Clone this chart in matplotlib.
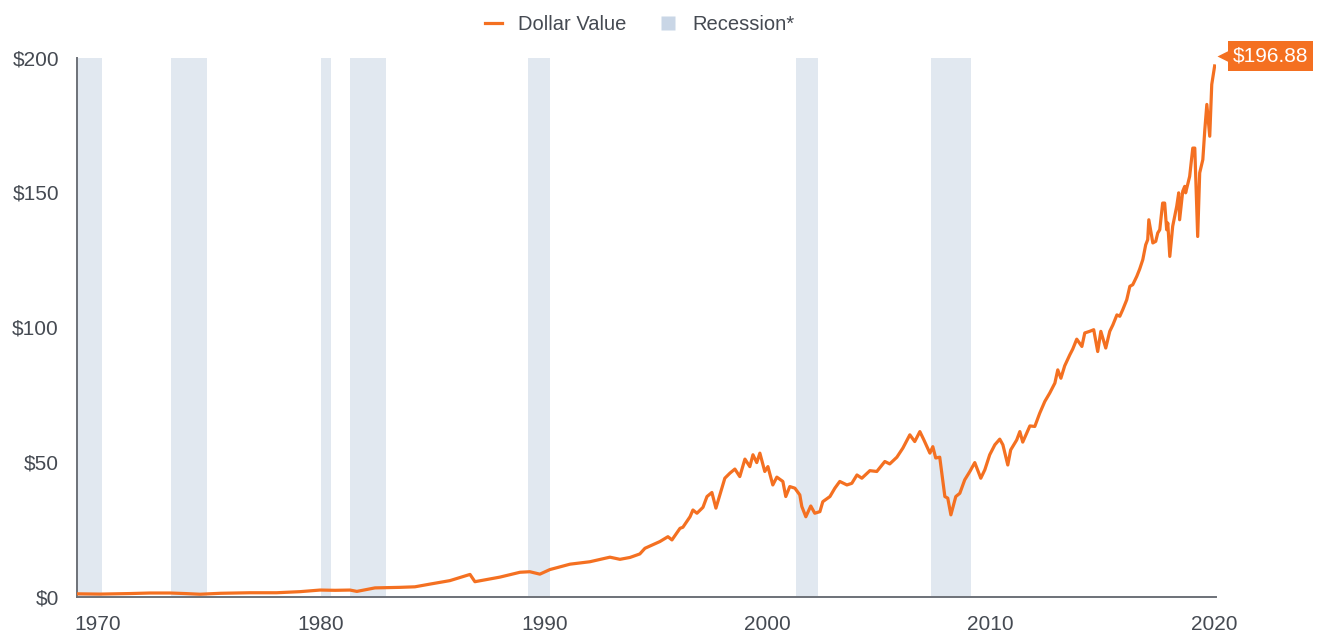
"""Growth of a dollar since 1969, with recession bands."""

import matplotlib
matplotlib.use("Agg")
import matplotlib.pyplot as plt
from matplotlib.lines import Line2D

# Line data (year, dollar value)
years = [
    1969.06, 1970.09, 1971.43, 1972.33, 1973.23, 1973.90, 1974.57, 1975.50,
    1976.81, 1978.00, 1979.05, 1979.95, 1980.62, 1981.29, 1981.60, 1982.41,
    1983.53, 1984.20, 1984.87, 1985.77, 1986.67, 1986.89, 1988.01, 1988.91,
    1989.35, 1989.80, 1990.25, 1991.15, 1992.04, 1992.94, 1993.39, 1993.84,
    1994.28, 1994.51, 1995.18, 1995.54, 1995.72, 1996.08, 1996.21, 1996.53,
    1996.66, 1996.84, 1997.11, 1997.29, 1997.51, 1997.69, 1998.09, 1998.32,
    1998.54, 1998.76, 1998.99, 1999.21, 1999.35, 1999.52, 1999.66, 1999.88,
    2000.02, 2000.24, 2000.42, 2000.69, 2000.82, 2001.00, 2001.23, 2001.45,
    2001.54, 2001.72, 2001.94, 2002.12, 2002.35, 2002.48, 2002.80, 2003.02,
    2003.24, 2003.56, 2003.78, 2004.01, 2004.23, 2004.59, 2004.90, 2005.26,
    2005.48, 2005.80, 2006.07, 2006.38, 2006.60, 2006.83, 2007.01, 2007.28,
    2007.41, 2007.54, 2007.72, 2007.95, 2008.08, 2008.22, 2008.44, 2008.62,
    2008.84, 2009.07, 2009.29, 2009.56, 2009.74, 2009.96, 2010.19, 2010.41,
    2010.55, 2010.77, 2010.90, 2011.17, 2011.31, 2011.44, 2011.76, 2011.98,
    2012.20, 2012.43, 2012.65, 2012.88, 2013.01, 2013.15, 2013.32, 2013.55,
    2013.68, 2013.86, 2014.09, 2014.22, 2014.44, 2014.62, 2014.80, 2014.94,
    2015.16, 2015.34, 2015.48, 2015.66, 2015.79, 2015.92, 2016.10, 2016.24,
    2016.37, 2016.55, 2016.68, 2016.82, 2016.95, 2017.04, 2017.09, 2017.27,
    2017.40, 2017.49, 2017.58, 2017.71, 2017.80, 2017.89, 2017.94, 2018.03,
    2018.16, 2018.34, 2018.43, 2018.47, 2018.61, 2018.70, 2018.74, 2018.92,
    2019.06, 2019.15, 2019.28, 2019.37, 2019.51, 2019.60, 2019.69, 2019.82,
    2019.91, 2020.04,
]
values = [
    1.0, 0.9, 1.1, 1.3, 1.3, 1.1, 0.85, 1.2,
    1.4, 1.4, 1.8, 2.4, 2.3, 2.4, 1.9, 3.2,
    3.4, 3.6, 4.6, 5.9, 8.2, 5.5, 7.2, 9.0,
    9.2, 8.3, 10.0, 12.0, 12.9, 14.6, 13.8, 14.5,
    15.8, 17.9, 20.4, 22.2, 21.0, 25.3, 25.7, 29.6,
    32.1, 30.9, 33.1, 37.1, 38.6, 32.8, 43.9, 45.8,
    47.3, 44.5, 51.0, 48.2, 52.6, 49.7, 53.2, 46.4,
    48.2, 41.4, 44.3, 42.7, 37.1, 40.8, 40.2, 37.7,
    33.4, 29.6, 33.6, 30.9, 31.5, 35.2, 37.1, 40.2,
    42.7, 41.4, 42.0, 45.1, 43.9, 46.7, 46.4, 50.1,
    49.2, 51.7, 55.1, 60.0, 57.5, 61.2, 58.1, 53.2,
    55.6, 51.4, 51.7, 37.1, 36.5, 30.3, 37.1, 38.3,
    43.3, 46.4, 49.7, 43.9, 47.0, 52.6, 56.3, 58.4,
    56.3, 48.8, 54.4, 58.1, 61.2, 57.3, 63.3, 63.1,
    68.0, 72.4, 75.5, 79.2, 84.1, 81.0, 85.6, 89.7,
    91.8, 95.5, 92.8, 97.8, 98.4, 99.0, 90.9, 98.4,
    92.2, 98.4, 100.8, 104.5, 104.0, 106.4, 110.1, 115.1,
    115.7, 118.8, 121.5, 125.0, 130.5, 132.4, 139.8, 131.2,
    131.8, 134.9, 136.1, 146.0, 146.0, 136.1, 138.6, 126.2,
    137.4, 144.8, 149.8, 139.8, 150.4, 152.2, 149.8, 155.9,
    166.4, 166.4, 133.6, 157.2, 162.1, 173.3, 182.6, 170.8,
    190.0, 196.88,
]

# Recession bands (start, end) in chart years
recession_start = [1969.06, 1973.27, 1980.00, 1981.30, 1989.28, 2001.30, 2007.35]
recession_end = [1970.18, 1974.87, 1980.45, 1982.90, 1990.27, 2002.27, 2009.10]

x_ticks = [1970, 1980, 1990, 2000, 2010, 2020]
y_ticks = [0, 50, 100, 150, 200]
y_labels = ["$0", "$50", "$100", "$150", "$200"]
end_label = "$196.88"

ORANGE = "#F47021"
BAND = "#E1E8F0"
TEXT = "#454a52"

plt.rcParams["font.family"] = ["Liberation Sans", "DejaVu Sans"]

fig = plt.figure(figsize=(13.17, 6.35), dpi=100)
ax = fig.add_axes([0.0585, 0.0606, 0.8648, 0.8488])

for s, e in zip(recession_start, recession_end):
    ax.axvspan(s, e, color=BAND, lw=0, zorder=0)

ax.plot(years, values, color=ORANGE, lw=2.3, solid_joinstyle="round", zorder=3)

ax.set_xlim(1969.06, 2020.1)
ax.set_ylim(0, 200)
ax.set_xticks(x_ticks)
ax.set_xticklabels([str(t) for t in x_ticks])
ax.set_yticks(y_ticks)
ax.set_yticklabels(y_labels)
ax.tick_params(length=0, labelsize=15, colors=TEXT)
ax.tick_params(axis="y", pad=13)
ax.tick_params(axis="x", pad=13)

for side in ("top", "right"):
    ax.spines[side].set_visible(False)
for side in ("left", "bottom"):
    ax.spines[side].set_color("#6d7178")
    ax.spines[side].set_linewidth(1.4)

# End value tag
tag_y = 200.5
ax.text(2020.85, tag_y, end_label, color="white", fontsize=15,
        ha="left", va="center", zorder=5, clip_on=False,
        bbox=dict(boxstyle="square,pad=0.25", fc=ORANGE, ec="none"))
ax.plot([2020.45], [tag_y], marker="<", ms=10, color=ORANGE,
        clip_on=False, zorder=5, mec="none")

handles = [
    Line2D([], [], color=ORANGE, lw=2.3),
    Line2D([], [], marker="s", ls="none", color="#c9d6e6", ms=10, mec="none"),
]
fig.legend(handles, ["Dollar Value", "Recession*"], loc="upper center",
           bbox_to_anchor=(0.486, 1.005), ncol=2, frameon=False, fontsize=14.5,
           handlelength=0.8, handletextpad=0.8, columnspacing=1.7,
           labelcolor=TEXT)

fig.savefig("out.png", dpi=100)
plt.close(fig)
